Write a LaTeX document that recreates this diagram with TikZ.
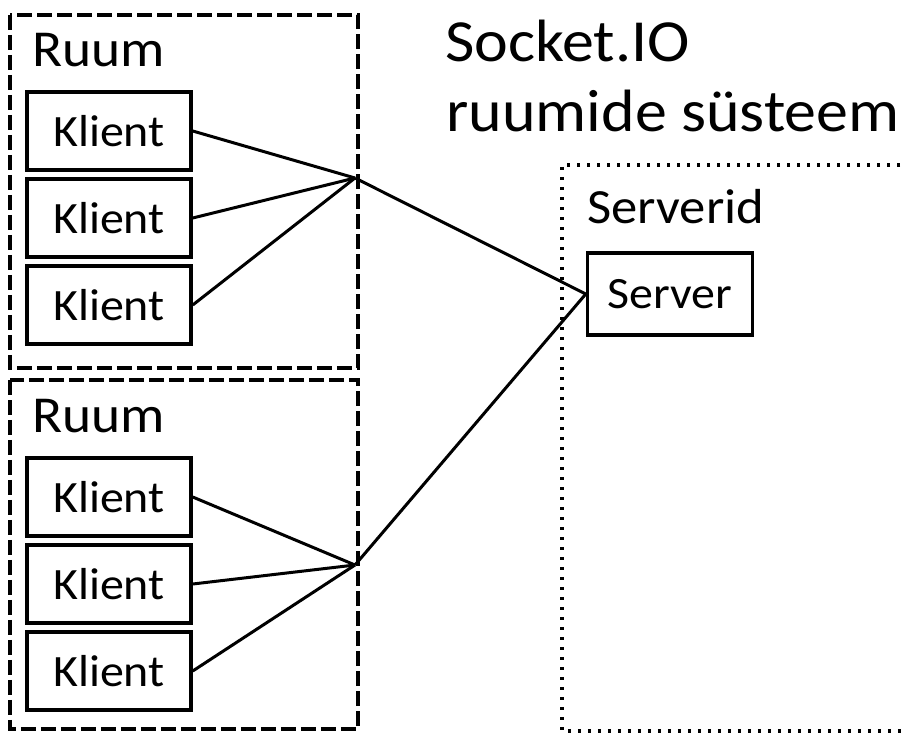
\documentclass[tikz,border=0pt]{standalone}
\usepackage{fontspec}
\setmainfont[FakeStretch=1.07]{Carlito}
\begin{document}
\begin{tikzpicture}[x=0.02cm,y=-0.02cm]
	\tikzstyle{klient}=[draw=black,line width=0.07cm,minimum width=3.28cm,minimum height=1.56cm,font=\fontsize{25.5}{30}\selectfont]
	\tikzstyle{label}=[anchor=base west,inner sep=0pt,font=\fontsize{29.5}{34}\selectfont]
	\tikzstyle{edge}=[draw,line width=0.06cm]
	\tikzstyle{ruum}=[draw,line width=0.08cm,dash pattern=on 0.3cm off 0.1cm]
	\tikzstyle{serverid}=[draw,line width=0.07cm,dash pattern=on 0.06cm off 0.14cm]
	\useasboundingbox (0,0) rectangle (901,733);
	\fill[white] (0,0) rectangle (901,733);
	% rooms and server area
	\draw[ruum] (10,15) rectangle (358,368);
	\draw[ruum] (10,380) rectangle (358,729);
	\draw[serverid] (910,165) -- (562,165) -- (562,731) -- (910,731);
	\node [label] (r1) at (32,67) {Ruum};
	\node [label] (r2) at (32,432) {Ruum};
	\node [label,font=\fontsize{34}{40}\selectfont] (t1) at (445,62) {Socket.IO};
	\node [label,font=\fontsize{34}{40}\selectfont] (t2) at (446,132) {ruumide süsteem};
	\node [label,font=\fontsize{28}{32}\selectfont] (sid) at (587,223) {Serverid};
	\begin{scope}
		\node [klient] (k1) at (109,131) {Klient};
		\node [klient] (k2) at (109,218) {Klient};
		\node [klient] (k3) at (109,305) {Klient};
		\node [klient] (k4) at (109,497) {Klient};
		\node [klient] (k5) at (109,584) {Klient};
		\node [klient] (k6) at (109,671) {Klient};
		\node [klient,minimum width=3.3cm,minimum height=1.64cm] (srv) at (670,294) {Server};
		\coordinate (j1) at (355,178);
		\coordinate (j2) at (355,565);

		\path[edge] (k1.east) -- (j1);
		\path[edge] (k2.east) -- (j1);
		\path[edge] (k3.east) -- (j1);
		\path[edge] (k4.east) -- (j2);
		\path[edge] (k5.east) -- (j2);
		\path[edge] (k6.east) -- (j2);
		\path[edge] (j1) -- (srv.west);
		\path[edge] (j2) -- (srv.west);
	\end{scope}
\end{tikzpicture}
\end{document}
